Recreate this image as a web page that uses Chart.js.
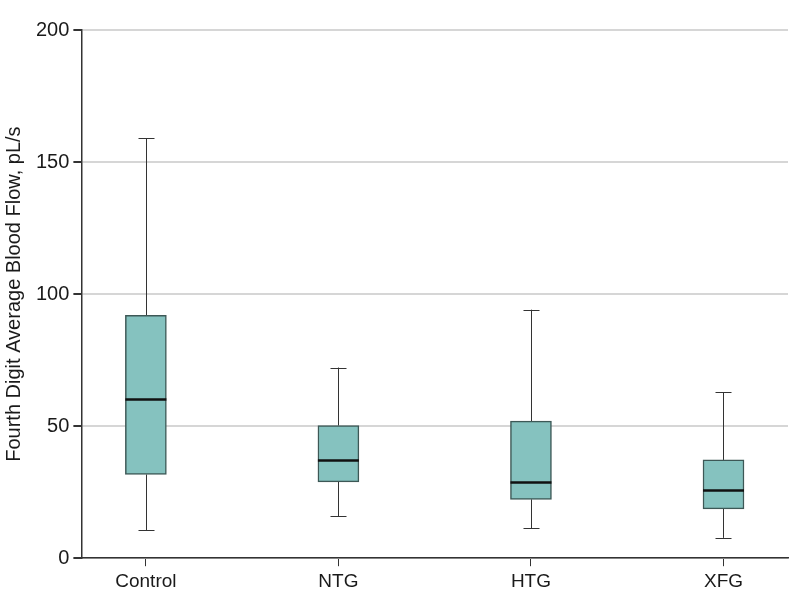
<!DOCTYPE html>
<html>
<head>
<meta charset="utf-8">
<script src="https://cdn.jsdelivr.net/npm/chart.js@4"></script>
<style>
  html, body { margin: 0; padding: 0; background: #fff; }
  #wrap { width: 798px; height: 609px; }
</style>
</head>
<body>
<div id="wrap"><canvas id="boxChart"></canvas></div>
<script>
const groups = ["Control", "NTG", "HTG", "XFG"];
const whiskerLow = [10.5, 15.8, 11.4, 7.7];
const q1 = [31.7, 28.9, 22.3, 18.7];
const medians = [60.1, 37.0, 28.7, 25.6];
const q3 = [92.0, 50.2, 51.9, 37.2];
const whiskerHigh = [159.1, 72.2, 94.1, 62.8];
const yTicks = [0, 50, 100, 150, 200];

const boxFill = "#85c2bf";
const boxEdge = "#3d5856";
const inkColor = "#333333";

// whiskers + caps + median lines, drawn through the chart's own scales
const boxExtras = {
  id: "boxExtras",
  beforeDatasetsDraw(chart) {
    const { ctx, scales: { x, y } } = chart;
    ctx.save();
    ctx.strokeStyle = inkColor;
    ctx.lineWidth = 1;
    groups.forEach((g, i) => {
      const cx = Math.round(x.getPixelForValue(i)) + 0.5;
      const capHalf = 8;
      [[whiskerLow[i], q1[i]], [q3[i], whiskerHigh[i]]].forEach(([a, b]) => {
        ctx.beginPath();
        ctx.moveTo(cx, y.getPixelForValue(a));
        ctx.lineTo(cx, y.getPixelForValue(b));
        ctx.stroke();
      });
      [whiskerLow[i], whiskerHigh[i]].forEach(v => {
        const py = Math.round(y.getPixelForValue(v)) + 0.5;
        ctx.beginPath();
        ctx.moveTo(cx - capHalf, py);
        ctx.lineTo(cx + capHalf, py);
        ctx.stroke();
      });
    });
    ctx.restore();
  },
  afterDatasetsDraw(chart) {
    const { ctx, scales: { y } } = chart;
    const meta = chart.getDatasetMeta(0);
    ctx.save();
    ctx.strokeStyle = "#111111";
    ctx.lineWidth = 2.5;
    meta.data.forEach((bar, i) => {
      const half = bar.width / 2;
      const py = y.getPixelForValue(medians[i]);
      ctx.beginPath();
      ctx.moveTo(bar.x - half, py);
      ctx.lineTo(bar.x + half, py);
      ctx.stroke();
    });
    ctx.restore();
  }
};

Chart.defaults.font.family = "'Liberation Sans', Arial, sans-serif";
Chart.defaults.color = "#1a1a1a";

new Chart(document.getElementById("boxChart"), {
  type: "bar",
  data: {
    datasets: [{
      label: "IQR",
      data: groups.map((g, i) => ({ x: i, y: [q1[i], q3[i]] })),
      backgroundColor: boxFill,
      borderColor: boxEdge,
      borderWidth: 1.5,
      borderSkipped: false,
      barThickness: 41
    }]
  },
  options: {
    responsive: true,
    maintainAspectRatio: false,
    animation: false,
    layout: { padding: { top: 30, right: 10, left: 2, bottom: 12 } },
    plugins: { legend: { display: false }, tooltip: { enabled: false } },
    scales: {
      x: {
        type: "linear",
        offset: false,
        min: -0.335,
        max: 3.335,
        afterBuildTicks: axis => { axis.ticks = groups.map((g, i) => ({ value: i })); },
        ticks: {
          callback: v => groups[v],
          font: { size: 19 },
          padding: 4,
          maxRotation: 0
        },
        grid: { offset: false, drawOnChartArea: false, tickColor: inkColor, tickLength: 8 },
        border: { color: inkColor, width: 1.5 }
      },
      y: {
        min: 0,
        max: 200,
        afterBuildTicks: axis => { axis.ticks = yTicks.map(v => ({ value: v })); },
        ticks: { font: { size: 20 }, padding: 4 },
        grid: { color: "#d6d6d6", lineWidth: 2, tickColor: inkColor, tickLength: 8 },
        border: { color: inkColor, width: 1.5 },
        title: {
          display: true,
          text: "Fourth Digit Average Blood Flow, pL/s",
          font: { size: 20 },
          padding: { top: 0, bottom: 6 }
        }
      }
    }
  },
  plugins: [boxExtras]
});
</script>
</body>
</html>
